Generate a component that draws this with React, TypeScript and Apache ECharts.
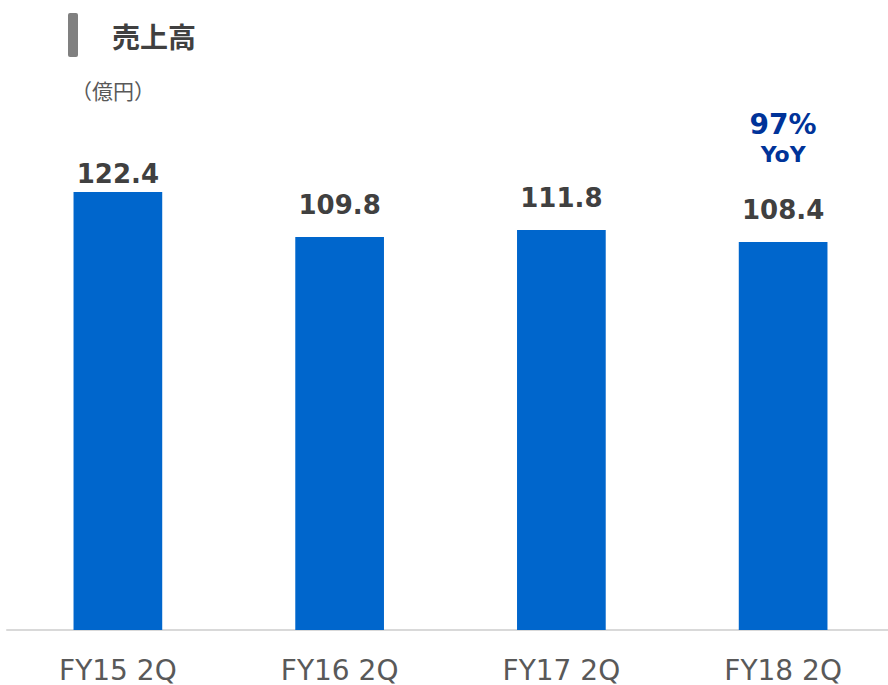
import React, { useEffect, useRef } from "react";
import * as echarts from "echarts";

const categories = ["FY15 2Q", "FY16 2Q", "FY17 2Q", "FY18 2Q"];
const sales = [122.4, 109.8, 111.8, 108.4];
const titleText = "売上高";
const unitText = "（億円）";
const yoyValue = "97%";
const yoyLabel = "YoY";

export default function App() {
  const ref = useRef<HTMLDivElement>(null);
  useEffect(() => {
    if (!ref.current) return;
    const chart = echarts.init(ref.current, null, { renderer: "svg" });
    const font = "'DejaVu Sans', Verdana, 'Noto Sans CJK JP', sans-serif";
    const cjk = "'Noto Sans CJK JP', sans-serif";
    const valueLabel = {
      show: true,
      position: "top",
      color: "#404040",
      fontSize: 26,
      fontWeight: "bold",
      fontFamily: font,
    };
    chart.setOption({
      animation: false,
      backgroundColor: "#ffffff",
      grid: { left: 7, width: 887, top: 129, bottom: 55, containLabel: false, outerBoundsMode: "none" },
      xAxis: {
        type: "category",
        data: categories,
        axisLine: { show: true, lineStyle: { color: "#d9d9d9", width: 2 } },
        axisTick: { show: false },
        axisLabel: { color: "#595959", fontSize: 28, lineHeight: 24, fontFamily: font, margin: 28 },
      },
      yAxis: {
        type: "value",
        min: 0,
        max: 140,
        show: false,
        splitLine: { show: false },
      },
      graphic: [
        { type: "rect", shape: { x: 68, y: 13, width: 10, height: 44, r: 2 }, style: { fill: "#808080" } },
        {
          type: "text",
          x: 112,
          y: 36,
          style: { text: titleText, fill: "#404040", fontSize: 28, fontWeight: "bold", fontFamily: cjk, verticalAlign: "middle" },
        },
        {
          type: "text",
          x: 71,
          y: 90,
          style: { text: unitText, fill: "#595959", fontSize: 21, fontFamily: cjk, verticalAlign: "middle" },
        },
      ],
      series: [
        {
          type: "bar",
          data: sales.map((v, i) => {
            if (i === sales.length - 1) {
              return {
                value: v,
                label: {
                  ...valueLabel,
                  distance: 17,
                  formatter: `{y|${yoyValue}}\n{l|${yoyLabel}}\n{g|}\n{v|{c}}`,
                  rich: {
                    y: { color: "#003399", fontSize: 28, fontWeight: "bold", fontFamily: font, lineHeight: 33 },
                    l: { color: "#003399", fontSize: 22, fontWeight: "bold", fontFamily: font, lineHeight: 26 },
                    g: { fontSize: 10, lineHeight: 28 },
                    v: { color: "#404040", fontSize: 26, fontWeight: "bold", fontFamily: font, lineHeight: 30 },
                  },
                },
              };
            }
            return { value: v, label: { ...valueLabel, distance: i === 0 ? 5 : 19 } };
          }),
          barWidth: "40%",
          itemStyle: { color: "#0066CC" },
          label: {
            ...valueLabel,
            formatter: (p: any) => p.value.toFixed(1),
          },
        },
      ],
    });
    return () => chart.dispose();
  }, []);
  return <div ref={ref} style={{ width: 888, height: 685, position: "absolute", left: 0, top: 0 }} />;
}
